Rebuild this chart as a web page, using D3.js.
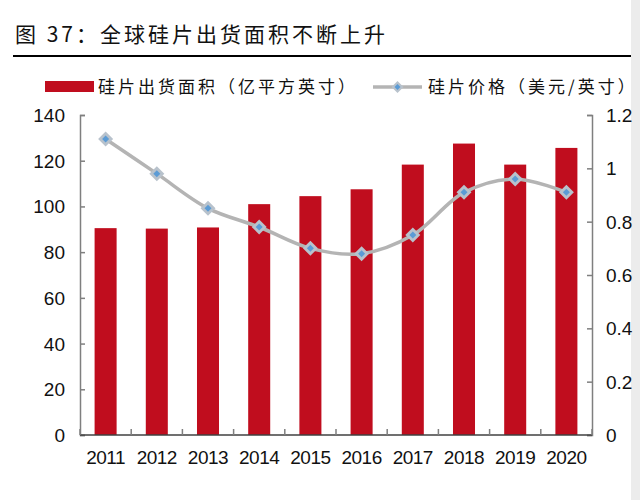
<!DOCTYPE html>
<html>
<head>
<meta charset="utf-8">
<title>全球硅片出货面积</title>
<style>
  body { margin: 0; background: #fff; }
</style>
</head>
<body>
<script src="https://d3js.org/d3.v7.min.js"></script>
<script>
// 数据
var years = ['2011', '2012', '2013', '2014', '2015', '2016', '2017', '2018', '2019', '2020'];
var area = [90.5, 90.3, 90.8, 101, 104.5, 107.5, 118.3, 127.5, 118.3, 125.6];   // 亿平方英寸
var price = [1.11, 0.98, 0.85, 0.78, 0.70, 0.68, 0.75, 0.91, 0.96, 0.91];       // 美元/英寸
var leftTicks = [0, 20, 40, 60, 80, 100, 120, 140];
var rightTicks = [0, 0.2, 0.4, 0.6, 0.8, 1, 1.2];

var width = 640, height = 500;
var padding = {left: 80, right: 48, top: 115, bottom: 65};

var svg = d3.select('body').append('svg')
    .attr('width', width)
    .attr('height', height);

// 右侧灰边
svg.append('rect')
    .attr('x', 631).attr('y', 0)
    .attr('width', 9).attr('height', height)
    .attr('fill', '#ececec');

// 标题
svg.append('text')
    .attr('x', 15).attr('y', 42)
    .attr('font-family', '"Noto Sans CJK SC"')
    .attr('font-size', 21)
    .attr('letter-spacing', 3)
    .attr('fill', '#111')
    .text('图 37：全球硅片出货面积不断上升');

svg.append('line')
    .attr('x1', 13).attr('x2', 631)
    .attr('y1', 56).attr('y2', 56)
    .attr('stroke', '#000')
    .attr('stroke-width', 2);

// 比例尺
var xScale = d3.scaleBand()
    .domain(years)
    .range([padding.left, width - padding.right])
    .paddingInner(0.57)
    .paddingOuter(0.285);

var xBand = d3.scaleBand()
    .domain(years)
    .range([padding.left, width - padding.right]);

var yLeft = d3.scaleLinear()
    .domain([0, 140])
    .range([height - padding.bottom, padding.top]);

var yRight = d3.scaleLinear()
    .domain([0, 1.2])
    .range([height - padding.bottom, padding.top]);

// 柱子
svg.selectAll('rect.bar')
    .data(area)
    .enter()
    .append('rect')
    .attr('class', 'bar')
    .attr('fill', '#c00d1e')
    .attr('x', function(d, i) { return xScale(years[i]); })
    .attr('width', xScale.bandwidth())
    .attr('y', function(d) { return yLeft(d); })
    .attr('height', function(d) { return yLeft(0) - yLeft(d); });

// 坐标轴
var axisColor = '#7f7f7f';
var tickFont = '"Liberation Sans", Arial, sans-serif';

var gLeft = svg.append('g')
    .attr('transform', 'translate(' + padding.left + ',0)')
    .call(d3.axisRight(yLeft).tickValues(leftTicks).tickSize(5).tickFormat(''));
var gRight = svg.append('g')
    .attr('transform', 'translate(' + (width - padding.right) + ',0)')
    .call(d3.axisLeft(yRight).tickValues(rightTicks).tickSize(5).tickFormat(''));
[gLeft, gRight].forEach(function(g) {
    g.select('.domain').attr('stroke', axisColor).attr('stroke-width', 1.5);
    g.selectAll('.tick line').attr('stroke', axisColor).attr('stroke-width', 1.5);
});

// 左轴标签
svg.selectAll('text.lt')
    .data(leftTicks)
    .enter()
    .append('text')
    .attr('class', 'lt')
    .attr('x', padding.left - 15)
    .attr('y', function(d) { return yLeft(d) + 7; })
    .attr('text-anchor', 'end')
    .attr('font-family', tickFont)
    .attr('font-size', 19)
    .attr('fill', '#111')
    .text(function(d) { return d; });

// 右轴标签
svg.selectAll('text.rt')
    .data(rightTicks)
    .enter()
    .append('text')
    .attr('class', 'rt')
    .attr('x', width - padding.right + 14)
    .attr('y', function(d) { return yRight(d) + 7; })
    .attr('font-family', tickFont)
    .attr('font-size', 19)
    .attr('fill', '#111')
    .text(function(d) { return d; });

// 底轴
var gBottom = svg.append('g')
    .attr('transform', 'translate(0,' + (height - padding.bottom) + ')');
gBottom.append('line')
    .attr('x1', padding.left).attr('x2', width - padding.right)
    .attr('stroke', '#404040').attr('stroke-width', 1.5);
gBottom.selectAll('line.bt')
    .data(years.concat(['end']))
    .enter()
    .append('line')
    .attr('class', 'bt')
    .attr('x1', function(d, i) { return padding.left + i * xBand.step(); })
    .attr('x2', function(d, i) { return padding.left + i * xBand.step(); })
    .attr('y1', 0).attr('y2', -6)
    .attr('stroke', axisColor).attr('stroke-width', 1.5);
gBottom.selectAll('text')
    .data(years)
    .enter()
    .append('text')
    .attr('x', function(d) { return xBand(d) + xBand.bandwidth() / 2; })
    .attr('y', 29)
    .attr('text-anchor', 'middle')
    .attr('font-family', tickFont)
    .attr('font-size', 19)
    .attr('letter-spacing', -0.5)
    .attr('fill', '#111')
    .text(function(d) { return d; });

// 价格折线
var line = d3.line()
    .x(function(d, i) { return xBand(years[i]) + xBand.bandwidth() / 2; })
    .y(function(d) { return yRight(d); })
    .curve(d3.curveCatmullRom.alpha(0.5));

svg.append('path')
    .datum(price)
    .attr('d', line)
    .attr('fill', 'none')
    .attr('stroke', '#b4b4b4')
    .attr('stroke-width', 3.5);

function diamond(g, cx, cy, r1, r2) {
    g.append('path')
        .attr('d', 'M' + cx + ',' + (cy - r1) + 'L' + (cx + r1) + ',' + cy + 'L' + cx + ',' + (cy + r1) + 'L' + (cx - r1) + ',' + cy + 'Z')
        .attr('fill', '#b8c2cc');
    g.append('path')
        .attr('d', 'M' + cx + ',' + (cy - r2) + 'L' + (cx + r2) + ',' + cy + 'L' + cx + ',' + (cy + r2) + 'L' + (cx - r2) + ',' + cy + 'Z')
        .attr('fill', '#5b9bd5');
}

var gMarks = svg.append('g');
price.forEach(function(d, i) {
    diamond(gMarks, xBand(years[i]) + xBand.bandwidth() / 2, yRight(d), 7.5, 3.5);
});

// 图例
var legendFont = '"Noto Sans CJK SC", sans-serif';
svg.append('rect')
    .attr('x', 45).attr('y', 81)
    .attr('width', 49).attr('height', 11)
    .attr('fill', '#c00d1e');
svg.append('text')
    .attr('x', 98).attr('y', 93)
    .attr('font-family', legendFont)
    .attr('font-size', 17)
    .attr('letter-spacing', 3)
    .attr('fill', '#111')
    .text('硅片出货面积（亿平方英寸）');

svg.append('line')
    .attr('x1', 373).attr('x2', 422)
    .attr('y1', 87).attr('y2', 87)
    .attr('stroke', '#b4b4b4').attr('stroke-width', 3.5);
diamond(svg.append('g'), 397.5, 87, 6, 3);
svg.append('text')
    .attr('x', 428).attr('y', 93)
    .attr('font-family', legendFont)
    .attr('font-size', 17)
    .attr('letter-spacing', 3)
    .attr('fill', '#111')
    .text('硅片价格（美元/英寸）');
</script>
</body>
</html>
